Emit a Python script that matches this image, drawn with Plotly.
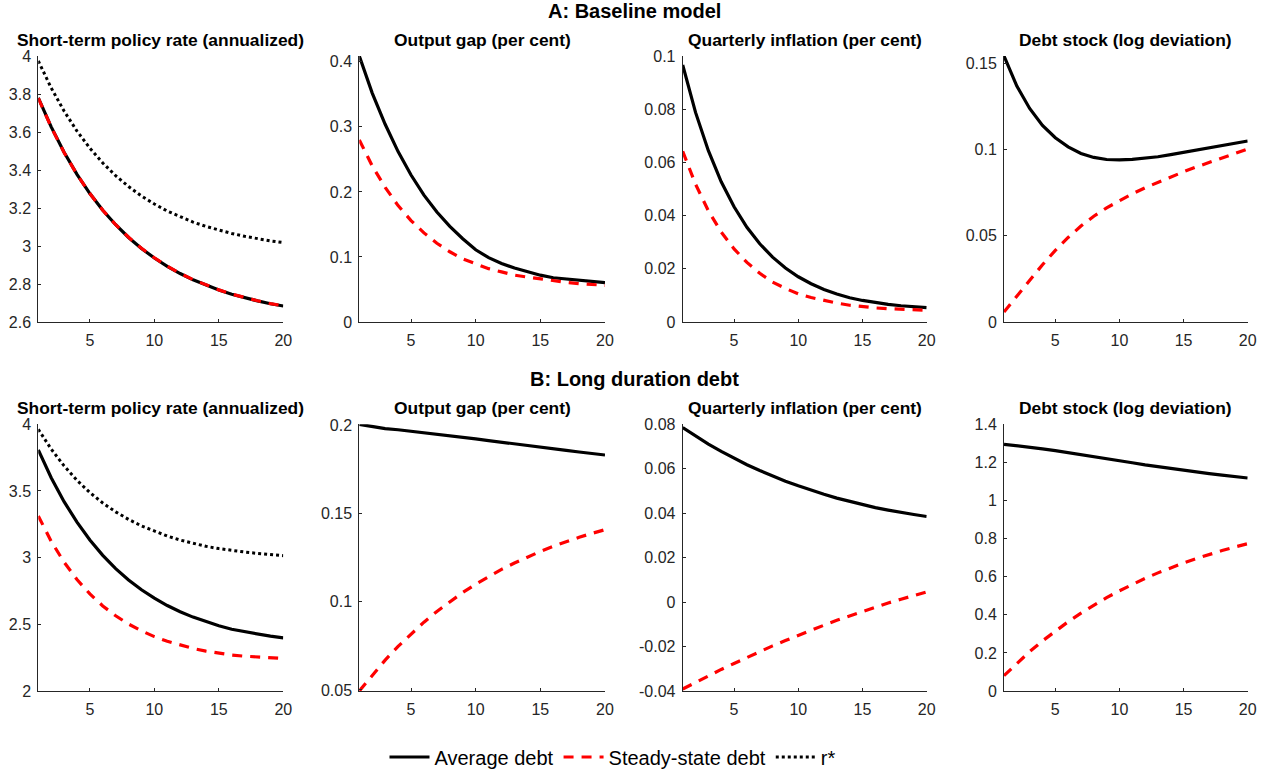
import plotly.graph_objects as go

# Quarters after the shock
quarters = list(range(1, 21))

# Panel A: baseline model
a_rate_avg = [3.780, 3.627, 3.493, 3.377, 3.276, 3.188, 3.112, 3.045, 2.987, 2.937,
              2.893, 2.855, 2.822, 2.793, 2.768, 2.746, 2.727, 2.711, 2.696, 2.684]
a_rate_ss = [3.778, 3.626, 3.492, 3.377, 3.276, 3.188, 3.112, 3.046, 2.988, 2.938,
             2.894, 2.856, 2.823, 2.794, 2.769, 2.747, 2.728, 2.712, 2.697, 2.685]
a_rstar = [3.974, 3.832, 3.710, 3.605, 3.515, 3.437, 3.370, 3.313, 3.263, 3.221,
           3.184, 3.153, 3.126, 3.103, 3.083, 3.066, 3.051, 3.038, 3.027, 3.018]
a_gap_avg = [0.409, 0.352, 0.304, 0.262, 0.226, 0.195, 0.169, 0.147, 0.128, 0.111,
             0.099, 0.090, 0.083, 0.077, 0.072, 0.068, 0.066, 0.064, 0.062, 0.0605]
a_gap_ss = [0.280, 0.240, 0.207, 0.179, 0.156, 0.137, 0.121, 0.108, 0.097, 0.089,
            0.082, 0.077, 0.072, 0.069, 0.066, 0.063, 0.061, 0.059, 0.0575, 0.0564]
a_infl_avg = [0.0966, 0.0788, 0.0644, 0.0527, 0.0433, 0.0356, 0.0294, 0.0244, 0.0203, 0.0170,
              0.0144, 0.0122, 0.0105, 0.0091, 0.0081, 0.0073, 0.0066, 0.0061, 0.0057, 0.0054]
a_infl_ss = [0.0642, 0.0518, 0.0418, 0.0338, 0.0275, 0.0224, 0.0183, 0.0150, 0.0126, 0.0106,
             0.0092, 0.0080, 0.0071, 0.0063, 0.0057, 0.0053, 0.0050, 0.0047, 0.0045, 0.0044]
a_debt_avg = [0.1542, 0.1368, 0.1238, 0.1140, 0.1068, 0.1015, 0.0977, 0.0954, 0.0942, 0.0940,
              0.0943, 0.0949, 0.0958, 0.0970, 0.0983, 0.0995, 0.1008, 0.1021, 0.1035, 0.1049]
a_debt_ss = [0.0058, 0.0150, 0.0243, 0.0332, 0.0415, 0.0490, 0.0556, 0.0613, 0.0662, 0.0705,
             0.0743, 0.0778, 0.0810, 0.0841, 0.0871, 0.0899, 0.0926, 0.0952, 0.0978, 0.1003]

# Panel B: long duration debt
b_rate_avg = [3.808, 3.599, 3.420, 3.266, 3.132, 3.017, 2.918, 2.833, 2.759, 2.696,
              2.641, 2.594, 2.554, 2.519, 2.489, 2.463, 2.444, 2.426, 2.411, 2.398]
b_rate_ss = [3.3125, 3.123, 2.966, 2.836, 2.728, 2.638, 2.564, 2.502, 2.451, 2.408,
             2.373, 2.343, 2.319, 2.299, 2.282, 2.270, 2.261, 2.254, 2.249, 2.244]
b_rstar = [3.9625, 3.814, 3.688, 3.580, 3.488, 3.410, 3.343, 3.287, 3.238, 3.197,
           3.162, 3.132, 3.107, 3.085, 3.068, 3.054, 3.042, 3.032, 3.023, 3.015]
b_gap_avg = [0.2005, 0.1992, 0.1981, 0.1974, 0.1966, 0.1958, 0.1949, 0.1940, 0.1931, 0.1922,
             0.1913, 0.1903, 0.1894, 0.1885, 0.1876, 0.1866, 0.1857, 0.1848, 0.1839, 0.1831]
b_gap_ss = [0.0494, 0.0585, 0.0669, 0.0747, 0.0818, 0.0884, 0.0945, 0.1000, 0.1052, 0.1099,
            0.1142, 0.1183, 0.1219, 0.1253, 0.1285, 0.1314, 0.1340, 0.1365, 0.1387, 0.1408]
b_infl_avg = [0.0785, 0.0746, 0.0711, 0.0678, 0.0647, 0.0618, 0.0592, 0.0567, 0.0544, 0.0523,
              0.0503, 0.0485, 0.0468, 0.0453, 0.0438, 0.0425, 0.0414, 0.0403, 0.0394, 0.0385]
b_infl_ss = [-0.0391, -0.0361, -0.0332, -0.0303, -0.0276, -0.0249, -0.0223, -0.0197, -0.0173, -0.0149,
             -0.0126, -0.0104, -0.0082, -0.0062, -0.0042, -0.0023, -0.0004, 0.0013, 0.0030, 0.0046]
b_debt_avg = [1.295, 1.288, 1.280, 1.271, 1.262, 1.252, 1.241, 1.230, 1.219, 1.208,
              1.198, 1.187, 1.177, 1.167, 1.157, 1.149, 1.141, 1.133, 1.125, 1.118]
b_debt_ss = [0.0805, 0.1458, 0.2065, 0.2628, 0.3152, 0.3638, 0.4089, 0.4509, 0.4899, 0.5261,
             0.5597, 0.5910, 0.6201, 0.6470, 0.6721, 0.6954, 0.7170, 0.7371, 0.7558, 0.7731]

panel_titles = ["Short-term policy rate (annualized)", "Output gap (per cent)",
                "Quarterly inflation (per cent)", "Debt stock (log deviation)"]
row_headers = ["A: Baseline model", "B: Long duration debt"]
series_names = ["Average debt", "Steady-state debt", "r*"]

x_ticks = [5, 10, 15, 20]
x_ticktext = ["5", "10", "15", "20"]

# y-axis range, tick values and tick labels per panel (row-major)
y_ranges = [[2.6, 4.0], [0, 0.409], [0, 0.1], [0, 0.1542],
            [2.0, 4.0], [0.0494, 0.2005], [-0.04, 0.08], [0, 1.4]]
y_tickvals = [[2.6, 2.8, 3.0, 3.2, 3.4, 3.6, 3.8, 4.0],
              [0, 0.1, 0.2, 0.3, 0.4],
              [0, 0.02, 0.04, 0.06, 0.08, 0.1],
              [0, 0.05, 0.1, 0.15],
              [2.0, 2.5, 3.0, 3.5, 4.0],
              [0.05, 0.1, 0.15, 0.2],
              [-0.04, -0.02, 0, 0.02, 0.04, 0.06, 0.08],
              [0, 0.2, 0.4, 0.6, 0.8, 1.0, 1.2, 1.4]]
y_ticktext = [["2.6", "2.8", "3", "3.2", "3.4", "3.6", "3.8", "4"],
              ["0", "0.1", "0.2", "0.3", "0.4"],
              ["0", "0.02", "0.04", "0.06", "0.08", "0.1"],
              ["0", "0.05", "0.1", "0.15"],
              ["2", "2.5", "3", "3.5", "4"],
              ["0.05", "0.1", "0.15", "0.2"],
              ["-0.04", "-0.02", "0", "0.02", "0.04", "0.06", "0.08"],
              ["0", "0.2", "0.4", "0.6", "0.8", "1", "1.2", "1.4"]]

avg_series = [a_rate_avg, a_gap_avg, a_infl_avg, a_debt_avg,
              b_rate_avg, b_gap_avg, b_infl_avg, b_debt_avg]
ss_series = [a_rate_ss, a_gap_ss, a_infl_ss, a_debt_ss,
             b_rate_ss, b_gap_ss, b_infl_ss, b_debt_ss]
rstar_series = {0: a_rstar, 4: b_rstar}

W, H = 1268, 769
col_px = [(38.3, 283.3), (359.3, 605.0), (682.7, 926.7), (1004.0, 1247.7)]
row_px = [(56.0, 322.0), (424.3, 691.0)]
title_y_px = [40.0, 407.5]
header_y_px = [10.5, 379.0]

FONT = "Liberation Sans, Arial, Helvetica, sans-serif"
AXIS_COLOR = "#262626"

fig = go.Figure()

for i in range(8):
    r, c = divmod(i, 4)
    ax = "" if i == 0 else str(i + 1)
    xref, yref = "x" + ax, "y" + ax
    first = i == 0
    fig.add_trace(go.Scatter(
        x=quarters, y=avg_series[i], mode="lines", name=series_names[0],
        line=dict(color="black", width=3.2), xaxis=xref, yaxis=yref,
        showlegend=first, legendrank=1))
    fig.add_trace(go.Scatter(
        x=quarters, y=ss_series[i], mode="lines", name=series_names[1],
        line=dict(color="#ff0000", width=3.2, dash="10px,8px"), xaxis=xref, yaxis=yref,
        showlegend=first, legendrank=2))
    if i in rstar_series:
        fig.add_trace(go.Scatter(
            x=quarters, y=rstar_series[i], mode="lines", name=series_names[2],
            line=dict(color="black", width=3, dash="3px,3px"), xaxis=xref, yaxis=yref,
            showlegend=first, legendrank=3))

    x0, x1 = col_px[c]
    y0, y1 = row_px[r]
    common = dict(showline=True, linecolor=AXIS_COLOR, linewidth=1, mirror=False,
                  ticks="inside", ticklen=3, tickwidth=1, tickcolor=AXIS_COLOR,
                  showgrid=False, zeroline=False, fixedrange=True,
                  tickfont=dict(family=FONT, size=16, color=AXIS_COLOR))
    fig.update_layout(**{
        "xaxis" + ax: dict(domain=[x0 / W, x1 / W], anchor=yref, range=[1, 20],
                           tickmode="array", tickvals=x_ticks, ticktext=x_ticktext,
                           ticklabelstandoff=4, **common),
        "yaxis" + ax: dict(domain=[1 - y1 / H, 1 - y0 / H], anchor=xref, range=y_ranges[i],
                           tickmode="array", tickvals=y_tickvals[i], ticktext=y_ticktext[i],
                           ticklabelstandoff=3, **common),
    })
    fig.add_annotation(
        text="<b>" + panel_titles[c] + "</b>", xref="paper", yref="paper",
        x=(x0 + x1) / 2 / W, y=1 - title_y_px[r] / H, xanchor="center", yanchor="middle",
        showarrow=False, font=dict(family=FONT, size=17.4, color="black"))

for r in range(2):
    fig.add_annotation(
        text="<b>" + row_headers[r] + "</b>", xref="paper", yref="paper",
        x=0.5, y=1 - header_y_px[r] / H, xanchor="center", yanchor="middle",
        showarrow=False, font=dict(family=FONT, size=20, color="black"))

fig.update_layout(
    width=W, height=H, autosize=False,
    margin=dict(l=0, r=0, t=0, b=0, autoexpand=False),
    paper_bgcolor="white", plot_bgcolor="white",
    font=dict(family=FONT, color="black"),
    legend=dict(orientation="h", xref="container", yref="container",
                x=612.5 / W, xanchor="center", y=1 - 757 / H, yanchor="middle",
                font=dict(family=FONT, size=20, color="black"), bgcolor="rgba(0,0,0,0)",
                itemwidth=40, tracegroupgap=0, traceorder="normal"),
)

fig.write_html("out.html")
